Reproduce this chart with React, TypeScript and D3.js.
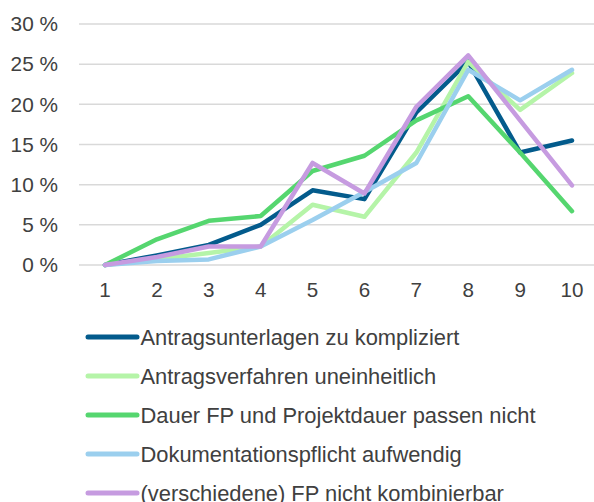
import React from "react";
import * as d3 from "d3";

const categories = ["1", "2", "3", "4", "5", "6", "7", "8", "9", "10"];
const yTicks = [0, 5, 10, 15, 20, 25, 30];

const antragsunterlagen = [0, 1.2, 2.5, 5.0, 9.3, 8.2, 19.0, 25.3, 14.0, 15.5];
const antragsverfahren = [0, 0.7, 1.5, 2.3, 7.5, 6.0, 14.0, 25.3, 19.3, 23.9];
const dauerFP = [0, 3.2, 5.5, 6.1, 11.7, 13.6, 18.0, 21.0, 14.0, 6.7];
const dokumentation = [0, 0.5, 0.7, 2.3, 5.6, 9.1, 12.7, 24.3, 20.5, 24.3];
const nichtKombinierbar = [0, 1.0, 2.3, 2.3, 12.7, 8.9, 19.7, 26.1, 18.0, 9.9];

const seriesNames = [
  "Antragsunterlagen zu kompliziert",
  "Antragsverfahren uneinheitlich",
  "Dauer FP und Projektdauer passen nicht",
  "Dokumentationspflicht aufwendig",
  "(verschiedene) FP nicht kombinierbar",
];
const seriesValues = [antragsunterlagen, antragsverfahren, dauerFP, dokumentation, nichtKombinierbar];
const colors = ["#035b8c", "#b5f4a8", "#55d66f", "#9bcfee", "#c69be0"];

const FONT = "'Liberation Sans', Arial, sans-serif";
const TEXT = "#404040";

export default function App() {
  const width = 594;
  const height = 502;

  const x = d3.scalePoint<string>().domain(categories).range([105, 572]);
  const y = d3.scaleLinear().domain([0, 30]).range([265, 24]);

  const line = d3
    .line<number>()
    .x((_, i) => x(categories[i]) as number)
    .y((d) => y(d));

  return (
    <svg
      width={width}
      height={height}
      style={{ position: "absolute", left: 0, top: 0, background: "#fff" }}
    >
      {/* gridlines + y labels */}
      {yTicks.map((t) => (
        <g key={t}>
          <line x1={79} x2={594} y1={y(t)} y2={y(t)} stroke="#d9d9d9" strokeWidth={1.5} />
          <text
            x={58}
            y={y(t)}
            dy="0.35em"
            textAnchor="end"
            fontFamily={FONT}
            fontSize={20.8}
            fill={TEXT}
          >
            {t} %
          </text>
        </g>
      ))}

      {/* x labels */}
      {categories.map((c) => (
        <text
          key={c}
          x={x(c)}
          y={297}
          textAnchor="middle"
          fontFamily={FONT}
          fontSize={20.6}
          fill={TEXT}
        >
          {c}
        </text>
      ))}

      {/* series */}
      {seriesValues.map((vals, i) => (
        <path
          key={seriesNames[i]}
          d={line(vals) || ""}
          fill="none"
          stroke={colors[i]}
          strokeWidth={4.5}
          strokeLinejoin="round"
          strokeLinecap="round"
        />
      ))}

      {/* legend */}
      {seriesNames.map((name, i) => {
        const ly = 337 + i * 39;
        return (
          <g key={name}>
            <line x1={88} x2={137} y1={ly} y2={ly} stroke={colors[i]} strokeWidth={5} strokeLinecap="round" />
            <text x={140.5} y={ly} dy="0.35em" fontFamily={FONT} fontSize={21.9} fill={TEXT}>
              {name}
            </text>
          </g>
        );
      })}
    </svg>
  );
}
